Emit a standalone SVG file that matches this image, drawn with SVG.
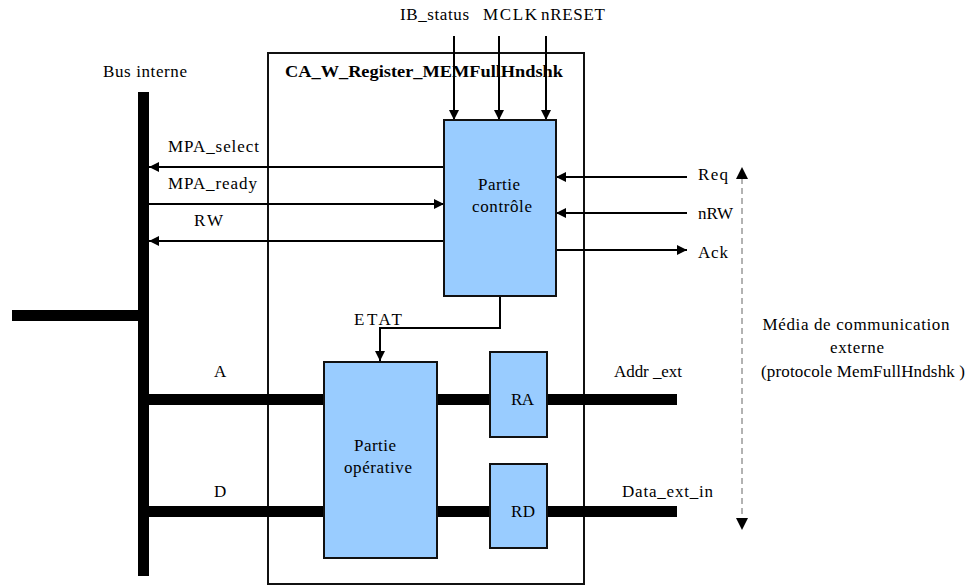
<svg xmlns="http://www.w3.org/2000/svg" width="969" height="586" viewBox="0 0 969 586" font-family="'Liberation Serif', 'Times New Roman', serif">
<style>
text{font-family:"Liberation Serif","Times New Roman",serif;font-size:17px;fill:#000}
.b{font-weight:bold}
.m{text-anchor:middle}
.blk{fill:#99ccff;stroke:#111;stroke-width:2}
.sig{stroke:#000;stroke-width:2;fill:none}
.bus{stroke:#000;stroke-width:11;fill:none}
.dash{stroke:#666;stroke-width:1;stroke-dasharray:6,4;fill:none}
</style>
<defs>
<marker id="ah" viewBox="0 0 10 10" refX="10" refY="5" markerWidth="10" markerHeight="10" markerUnits="userSpaceOnUse" orient="auto"><path d="M0,0 L10,5 L0,10 z" fill="#000"/></marker>
</defs>

<g id="module">
<rect x="268" y="53" width="316" height="531" fill="#fff" stroke="#111" stroke-width="2"/>
<text class="b" x="285" y="77" textLength="278" lengthAdjust="spacingAndGlyphs">CA_W_Register_MEMFullHndshk</text>
</g>

<g id="bus-interne">
<text x="103" y="77" textLength="84" lengthAdjust="spacing">Bus interne</text>
<line class="bus" x1="143.5" y1="92" x2="143.5" y2="576"/>
<line class="bus" x1="12" y1="315.5" x2="143.5" y2="315.5"/>
</g>

<g id="connectors">
<line class="sig" x1="454" y1="36" x2="454" y2="120" marker-end="url(#ah)"/>
<line class="sig" x1="499" y1="36" x2="499" y2="120" marker-end="url(#ah)"/>
<line class="sig" x1="546" y1="36" x2="546" y2="120" marker-end="url(#ah)"/>
<line class="sig" x1="444" y1="167" x2="149" y2="167" marker-end="url(#ah)"/>
<line class="sig" x1="149" y1="204" x2="444" y2="204" marker-end="url(#ah)"/>
<line class="sig" x1="444" y1="241" x2="149" y2="241" marker-end="url(#ah)"/>
<line class="sig" x1="687" y1="177" x2="556" y2="177" marker-end="url(#ah)"/>
<line class="sig" x1="687" y1="213" x2="556" y2="213" marker-end="url(#ah)"/>
<line class="sig" x1="556" y1="250" x2="687" y2="250" marker-end="url(#ah)"/>
<polyline class="sig" points="500,296 500,328 380,328 380,361" marker-end="url(#ah)"/>
<line class="bus" x1="149" y1="399.5" x2="324" y2="399.5"/>
<line class="bus" x1="437" y1="399.5" x2="490" y2="399.5"/>
<line class="bus" x1="547" y1="399.5" x2="677" y2="399.5"/>
<line class="bus" x1="149" y1="511.5" x2="324" y2="511.5"/>
<line class="bus" x1="437" y1="511.5" x2="490" y2="511.5"/>
<line class="bus" x1="547" y1="511.5" x2="677" y2="511.5"/>
<line class="dash" x1="742" y1="178" x2="742" y2="519"/>
<path d="M736,179 L742,167 L748,179 z" fill="#000"/>
<path d="M736,518 L742,530 L748,518 z" fill="#000"/>
</g>

<g id="labels">
<text x="400" y="20" textLength="69" lengthAdjust="spacing">IB_status</text>
<text x="483" y="20" textLength="54" lengthAdjust="spacing">MCLK</text>
<text x="541" y="20" textLength="64" lengthAdjust="spacing">nRESET</text>
<text x="168" y="152" textLength="91" lengthAdjust="spacing">MPA_select</text>
<text x="168" y="189" textLength="89" lengthAdjust="spacing">MPA_ready</text>
<text x="194" y="226" textLength="29" lengthAdjust="spacing">RW</text>
<text x="698" y="180" textLength="30" lengthAdjust="spacing">Req</text>
<text x="698" y="219" textLength="35" lengthAdjust="spacing">nRW</text>
<text x="698" y="258" textLength="30" lengthAdjust="spacing">Ack</text>
<text x="354" y="325" textLength="48" lengthAdjust="spacing">ETAT</text>
<text x="214" y="377">A</text>
<text x="214" y="497">D</text>
<text x="614" y="377" textLength="68" lengthAdjust="spacing">Addr _ext</text>
<text x="622" y="497" textLength="91" lengthAdjust="spacing">Data_ext_in</text>
<text class="m" x="856" y="330" textLength="187" lengthAdjust="spacing">Média de communication</text>
<text class="m" x="857" y="353" textLength="54" lengthAdjust="spacing">externe</text>
<text class="m" x="863" y="377" textLength="204" lengthAdjust="spacing">(protocole MemFullHndshk )</text>
</g>

<g id="partie-controle">
<rect class="blk" x="444" y="120" width="112" height="176"/>
<text class="m" x="499" y="190" textLength="42" lengthAdjust="spacing">Partie</text>
<text class="m" x="502" y="212" textLength="60" lengthAdjust="spacing">contrôle</text>
</g>

<g id="partie-operative">
<rect class="blk" x="324" y="362" width="113" height="196"/>
<text class="m" x="375" y="451" textLength="42" lengthAdjust="spacing">Partie</text>
<text class="m" x="378" y="473" textLength="68" lengthAdjust="spacing">opérative</text>
</g>

<g id="RA">
<rect class="blk" x="490" y="352" width="57" height="85"/>
<text class="m" x="522.5" y="405" textLength="23" lengthAdjust="spacing">RA</text>
</g>

<g id="RD">
<rect class="blk" x="490" y="464" width="57" height="84"/>
<text class="m" x="523" y="517" textLength="24" lengthAdjust="spacing">RD</text>
</g>
</svg>
